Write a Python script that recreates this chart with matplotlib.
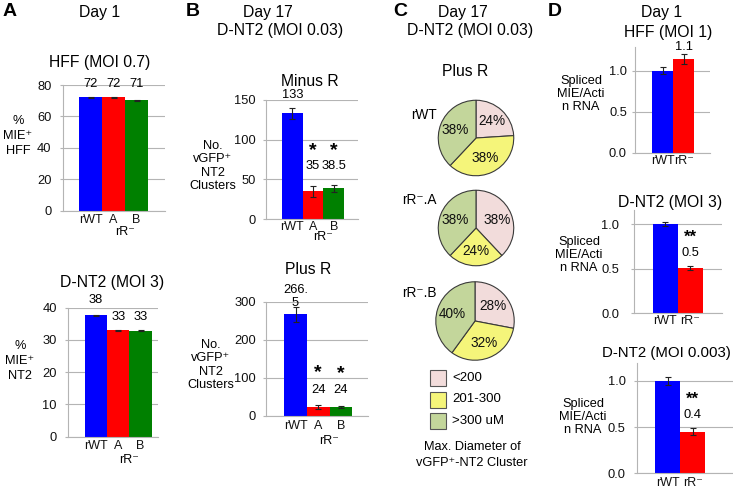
import matplotlib.pyplot as plt
from matplotlib.patches import Rectangle

plt.rcParams['font.family'] = ['Liberation Sans', 'DejaVu Sans']

W, H = 733, 488

# ---- data ----
strains3 = ['rWT', 'A', 'B']
strains2 = ['rWT', 'rR\u207b']
bar_colors = ['#0000ff', '#ff0000', '#008000']

hff_pct = [72.2, 72.3, 70.2]
hff_pct_err = [0.3, 0.3, 0.3]
hff_pct_lbl = ['72', '72', '71']

nt2_pct = [37.6, 33.0, 32.8]
nt2_pct_err = [0.2, 0.15, 0.15]
nt2_pct_lbl = ['38', '33', '33']

minus_r = [133, 35, 38.5]
minus_r_err = [6.5, 7, 4]
minus_r_lbl = ['133', '35', '38.5']

plus_r = [266.5, 24, 24]
plus_r_err = [20, 5, 2]
plus_r_lbl = ['266.\n5', '24', '24']

size_classes = ['<200', '201-300', '>300 uM']
size_colors = ['#f2dcdb', '#f5f57a', '#c3d69b']
pie_names = ['rWT', 'rR\u207b.A', 'rR\u207b.B']
pie_rwt = [24, 38, 38]
pie_a = [38, 24, 38]
pie_b = [28, 32, 40]

rna_hff = [1.0, 1.14]
rna_hff_err = [0.04, 0.06]
rna_hff_lbl = ['', '1.1']

rna_nt2_moi3 = [1.0, 0.51]
rna_nt2_moi3_err = [0.02, 0.02]
rna_nt2_moi3_lbl = ['', '0.5']

rna_nt2_moi0003 = [1.0, 0.45]
rna_nt2_moi0003_err = [0.04, 0.04]
rna_nt2_moi0003_lbl = ['', '0.4']

fig = plt.figure(figsize=(W / 100, H / 100), dpi=100)

ov = fig.add_axes([0, 0, 1, 1])
ov.set_xlim(0, W)
ov.set_ylim(H, 0)
ov.axis('off')

GRID = '#b4b4b4'
TITLE = 11.3


def bar_panel(box, c0, bw, vals, errs, names, ylim, yticks, yfmt, ypad, xpad):
    l, t, r, b = box
    ax = fig.add_axes([l / W, 1 - b / H, (r - l) / W, (b - t) / H])
    ax.patch.set_visible(False)
    x = list(range(len(vals)))
    ax.bar(x, vals, width=1, color=bar_colors[:len(vals)], yerr=errs, capsize=2.2,
           error_kw=dict(elinewidth=0.8, capthick=0.8, ecolor='#222222'))
    x0 = -(c0 - l) / bw
    ax.set_xlim(x0, x0 + (r - l) / bw)
    ax.set_ylim(*ylim)
    ax.set_yticks(yticks)
    ax.set_yticklabels([yfmt.format(v) for v in yticks])
    ax.set_xticks(x)
    ax.set_xticklabels(names)
    ax.yaxis.grid(True, color=GRID, lw=0.8)
    ax.set_axisbelow(True)
    for s in ['top', 'right']:
        ax.spines[s].set_visible(False)
    for s in ['left', 'bottom']:
        ax.spines[s].set_color(GRID)
        ax.spines[s].set_linewidth(0.8)
    ax.tick_params(axis='y', length=2.2, width=0.8, color=GRID, pad=ypad * 0.72,
                   labelsize=9.3, labelcolor='#111111')
    ax.tick_params(axis='x', length=0, pad=xpad * 0.72, labelsize=9, labelcolor='#111111')
    return ax


def bar_labels(ax, vals, errs, lbls, dy, size=9.3, **kw):
    for i, (v, e, s, d) in enumerate(zip(vals, errs, lbls, dy)):
        ax.annotate(s, (i, v + e), xytext=(0, d), textcoords='offset pixels',
                    ha='center', va='center', fontsize=size, linespacing=1.1, **kw)


def group_label(ax, dy):
    ax.annotate('rR\u207b', (1.5, 0), xycoords=('data', 'axes fraction'), xytext=(0, -dy),
                textcoords='offset pixels', ha='center', va='center', fontsize=9)


def T(x, y, s, size=9.2, **kw):
    kw.setdefault('ha', 'center')
    kw.setdefault('va', 'center')
    ov.text(x, y, s, fontsize=size, **kw)


# ---- panel A ----
T(3, 12, 'A', 14, weight='bold', ha='left')
T(100, 13, 'Day 1', TITLE)
T(100, 63, 'HFF (MOI 0.7)', TITLE)
ax = bar_panel((62.7, 85, 165, 210.7), 90.5, 23, hff_pct, hff_pct_err, strains3,
               (0, 80), [0, 20, 40, 60, 80], '{:.0f}', 8, 3)
bar_labels(ax, hff_pct, hff_pct_err, hff_pct_lbl, [13, 13, 16])
group_label(ax, 21)
T(18, 136, '%\nMIE\u207a\nHFF', linespacing=1.3)

T(112, 283, 'D-NT2 (MOI 3)', TITLE)
ax = bar_panel((68, 307.7, 158, 436.7), 96, 22.3, nt2_pct, nt2_pct_err, strains3,
               (0, 40), [0, 10, 20, 30, 40], '{:.0f}', 8, 3)
bar_labels(ax, nt2_pct, nt2_pct_err, nt2_pct_lbl, [15, 13, 13])
group_label(ax, 23)
T(20, 361, '%\nMIE\u207a\nNT2', linespacing=1.3)

# ---- panel B ----
T(186, 12, 'B', 14, weight='bold', ha='left')
T(268, 13, 'Day 17', TITLE)
T(280, 30, 'D-NT2 (MOI 0.03)', TITLE)
T(310, 82, 'Minus R', TITLE)
ax = bar_panel((265.7, 100, 358, 219), 292.3, 20.7, minus_r, minus_r_err, strains3,
               (0, 150), [0, 50, 100, 150], '{:.0f}', 7, 2)
bar_labels(ax, minus_r, minus_r_err, minus_r_lbl, [13, 20, 19])
bar_labels(ax, minus_r, minus_r_err, ['', '*', '*'], [0, 35, 35], size=14, weight='bold')
group_label(ax, 18)
T(213, 166, 'No.\nvGFP\u207a\nNT2\nClusters', linespacing=1.15)

T(308, 270, 'Plus R', TITLE)
ax = bar_panel((266, 301.7, 368, 416), 295.5, 22.7, plus_r, plus_r_err, strains3,
               (0, 300), [0, 100, 200, 300], '{:.0f}', 7, 4)
bar_labels(ax, plus_r, plus_r_err, plus_r_lbl, [10, 15, 16])
bar_labels(ax, plus_r, plus_r_err, ['', '*', '*'], [0, 32, 33], size=14, weight='bold')
group_label(ax, 25)
T(211, 365, 'No.\nvGFP\u207a\nNT2\nClusters', linespacing=1.15)

# ---- panel C ----
T(393, 12, 'C', 14, weight='bold', ha='left')
T(463, 13, 'Day 17', TITLE)
T(470, 30, 'D-NT2 (MOI 0.03)', TITLE)
T(465, 72, 'Plus R', TITLE)
pie_geom = [(476, 138, 38.5, 115), (476, 228, 38.5, 200), (475, 321, 40, 293)]
for name, vals, (cx, cy, rad, ny) in zip(pie_names, [pie_rwt, pie_a, pie_b], pie_geom):
    pa = fig.add_axes([(cx - rad) / W, 1 - (cy + rad) / H, 2 * rad / W, 2 * rad / H])
    pa.patch.set_visible(False)
    pa.pie(vals, colors=size_colors, startangle=90, counterclock=False,
           autopct=lambda p: f'{p:.0f}%', pctdistance=0.6,
           wedgeprops=dict(edgecolor='#3a3a3a', linewidth=0.8),
           textprops=dict(fontsize=9.8, color='#111111'))
    pa.set_xlim(-1.02, 1.02)
    pa.set_ylim(-1.02, 1.02)
    T(437, ny, name, 9.8, ha='right')

for i, (lab, col) in enumerate(zip(size_classes, size_colors)):
    yc = 378 + i * 21.5
    ov.add_patch(Rectangle((430, yc - 8), 16, 16, facecolor=col, edgecolor='#555555', lw=0.8))
    T(452, yc, lab, 9.5, ha='left')
T(472, 447, 'Max. Diameter of', 9.2)
T(472, 463, 'vGFP\u207a-NT2 Cluster', 9.2)

# ---- panel D ----
T(548, 12, 'D', 14, weight='bold', ha='left')
T(662, 13, 'Day 1', TITLE)
T(668, 32, 'HFF (MOI 1)', TITLE)
ax = bar_panel((635, 47, 710, 152.7), 662.5, 21.3, rna_hff, rna_hff_err, strains2,
               (0, 1.29), [0, 0.5, 1.0], '{:.1f}', 5, 2)
bar_labels(ax, rna_hff, rna_hff_err, rna_hff_lbl, [0, 7])
T(581, 94, 'Spliced\nMIE/Acti\nn RNA', linespacing=1.15)

T(670, 203, 'D-NT2 (MOI 3)', TITLE)
ax = bar_panel((633.5, 210, 722, 313.3), 665.2, 25, rna_nt2_moi3, rna_nt2_moi3_err, strains2,
               (0, 1.157), [0, 0.5, 1.0], '{:.1f}', 11, 2)
bar_labels(ax, rna_nt2_moi3, rna_nt2_moi3_err, rna_nt2_moi3_lbl, [0, 13])
bar_labels(ax, rna_nt2_moi3, rna_nt2_moi3_err, ['', '**'], [0, 29], size=12, weight='bold')
T(579, 255, 'Spliced\nMIE/Acti\nn RNA', linespacing=1.15)

T(666, 353, 'D-NT2 (MOI 0.003)', 10.8)
ax = bar_panel((636.7, 363.3, 733, 473.3), 667.5, 25.3, rna_nt2_moi0003, rna_nt2_moi0003_err,
               strains2, (0, 1.19), [0, 0.5, 1.0], '{:.1f}', 8, 4)
bar_labels(ax, rna_nt2_moi0003, rna_nt2_moi0003_err, rna_nt2_moi0003_lbl, [0, 13])
bar_labels(ax, rna_nt2_moi0003, rna_nt2_moi0003_err, ['', '**'], [0, 29], size=12, weight='bold')
T(583, 417, 'Spliced\nMIE/Acti\nn RNA', linespacing=1.15)

fig.savefig('out.png', dpi=100)
